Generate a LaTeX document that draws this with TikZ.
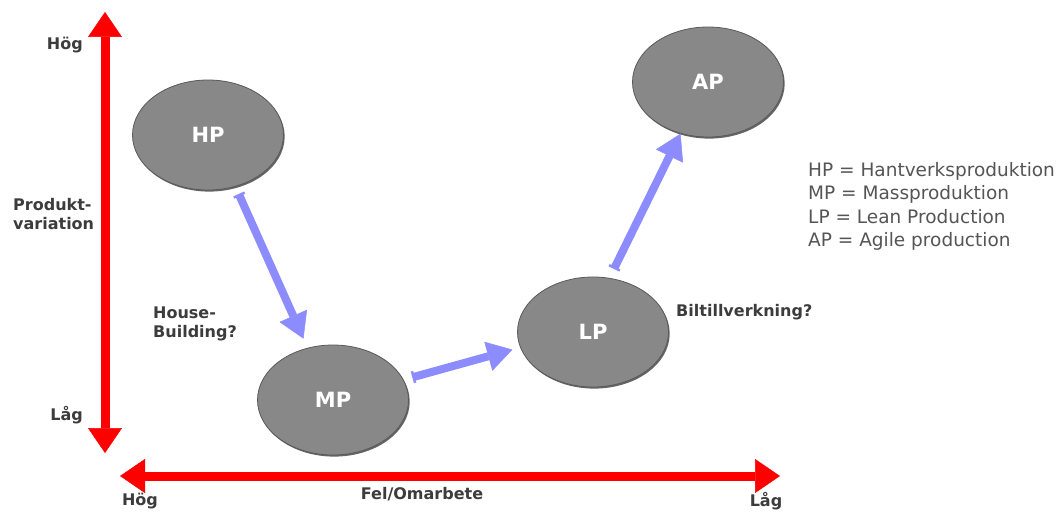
\documentclass[tikz,border=0pt]{standalone}
\usepackage{fontspec}
\setmainfont{DejaVu Sans}
\usetikzlibrary{arrows.meta,shapes.geometric,shadows}
\definecolor{axisred}{RGB}{255,0,0}
\definecolor{flowblue}{RGB}{140,140,255}
\definecolor{blobgray}{RGB}{136,136,136}
\definecolor{labelgray}{RGB}{60,60,60}
\definecolor{legendgray}{RGB}{85,85,85}

\begin{document}
\begin{tikzpicture}[x=1pt,y=-1pt,
  stage/.style={ellipse, fill=blobgray, draw=black!65, line width=0.8pt,
    minimum width=151pt, minimum height=110pt, inner sep=0pt, text=white,
    font=\bfseries\fontsize{21}{23}\selectfont,
    drop shadow={shadow xshift=1.2pt, shadow yshift=-1.6pt, fill=black, opacity=0.6}},
  axis/.style={draw=axisred, line width=9pt,
    {Triangle[width=34pt,length=25pt,line width=0.5pt]}-{Triangle[width=34pt,length=25pt,line width=0.5pt]}},
  flow/.style={draw=flowblue, line width=8pt,
    {Bar[width=12pt,line width=2.5pt]}-{Triangle[width=30pt,length=25pt,line width=0.5pt]}},
  lab/.style={text=labelgray, font=\bfseries\fontsize{16}{19}\selectfont, inner sep=0pt},
  legend/.style={text=legendgray, font=\fontsize{18.5}{23.5}\selectfont, align=left,
    inner sep=0pt, anchor=north west}
]
\useasboundingbox[fill=white] (0,0) rectangle (1064,511);

% axes
\coordinate (vtop) at (105,12);
\coordinate (vbot) at (105,453);
\coordinate (hleft) at (120,476);
\coordinate (hright) at (780,476);
\draw[axis] (vtop) -- (vbot);
\draw[axis] (hleft) -- (hright);

% axis labels
\node[lab, anchor=east] (hogv) at (83,45) {Hög};
\node[lab, anchor=west, align=left] (pv) at (13,214) {Produkt-\\variation};
\node[lab, anchor=east] (lagv) at (83,415) {Låg};
\node[lab] (hogh) at (140,501) {Hög};
\node[lab] (fel) at (422,494) {Fel/Omarbete};
\node[lab] (lagh) at (766,501) {Låg};

% production paradigms
\node[stage] (HP) at (208,135) {HP};
\node[stage] (MP) at (333,400) {MP};
\node[stage] (LP) at (593,332) {LP};
\node[stage] (AP) at (708,82) {AP};

% transitions
\draw[flow, shorten <=8pt, shorten >=10pt] (HP.-62) -- (MP.116);
\draw[flow, shorten <=9pt, shorten >=8pt] (MP.16) -- (LP.-168);
\draw[flow, shorten <=10pt] (LP.73.5) -- (AP.-118.8);

% examples
\node[lab, anchor=west, align=left] (hb) at (153,324) {House-\\Building?};
\node[lab, anchor=west] (bil) at (676,312) {Biltillverkning?};

% legend
\node[legend] (leg) at (808,162) {HP = Hantverksproduktion\\MP = Massproduktion\\LP = Lean Production\\AP = Agile production};
\end{tikzpicture}
\end{document}
